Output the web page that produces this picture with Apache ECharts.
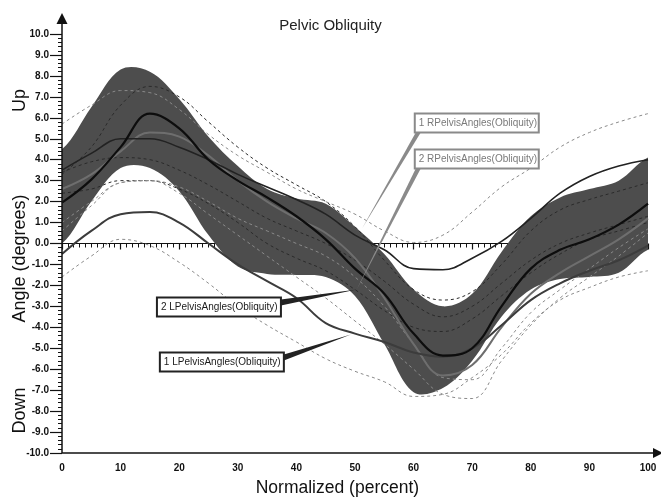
<!DOCTYPE html>
<html>
<head>
<meta charset="utf-8">
<script src="https://cdn.jsdelivr.net/npm/echarts@6/dist/echarts.min.js"></script>
<style>
  html, body { margin: 0; padding: 0; background: #fff; }
  #chart { width: 661px; height: 498px; }
</style>
</head>
<body>
<div id="chart"></div>
<script>
// Gait cycle (percent) sampling points
const pct = [0, 5, 10, 15, 20, 25, 30, 35, 40, 45, 50, 55, 60, 65, 70, 75, 80, 85, 90, 95, 100];

// Normative range (degrees)
const normUpper = [4.5, 6.5, 8.3, 8.2, 6.9, 5.1, 3.7, 2.6, 2.15, 1.9, 0.8, -0.5, -2.2, -3.0, -2.4, -0.4, 1.3, 2.2, 2.6, 3.0, 4.1];
const normLower = [0.0, 2.0, 3.6, 3.6, 2.5, 0.4, -1.1, -1.45, -1.5, -1.6, -2.5, -4.8, -7.1, -6.9, -5.6, -3.5, -2.2, -1.7, -1.6, -1.4, -0.3];

// Trial curves, solid
const leftMean   = [1.95, 3.05, 4.6, 6.2, 5.5, 4.0, 3.0, 2.2, 1.3, 0.2, -1.2, -2.4, -4.3, -5.35, -5.0, -3.0, -1.2, -0.3, 0.2, 0.9, 1.9];
const rightA     = [3.5, 4.3, 5.0, 5.0, 4.6, 4.0, 3.3, 2.7, 2.1, 1.4, 0.4, -0.3, -1.2, -1.25, -0.7, 0.1, 1.2, 2.4, 3.2, 3.7, 4.0];
const leftA      = [-0.5, 0.6, 1.4, 1.5, 1.0, 0.0, -1.0, -1.8, -2.6, -3.8, -4.3, -4.7, -5.2, -5.4, -5.0, -3.9, -2.7, -1.9, -1.3, -0.8, -0.1];
const rightB     = [2.6, 3.3, 4.4, 5.3, 5.1, 4.2, 3.0, 2.0, 1.2, 0.5, -0.7, -2.6, -4.8, -6.3, -5.8, -4.0, -2.4, -1.4, -0.6, 0.2, 1.2];

// Trial curves, dashed
const dashA = [5.7, 6.6, 7.3, 7.2, 6.4, 5.2, 4.2, 3.4, 2.6, 2.0, 1.4, 0.6, 0.05, 0.4, 1.5, 2.7, 3.6, 4.6, 5.3, 5.8, 6.2];
const dashB = [3.3, 4.6, 6.6, 7.5, 7.0, 5.8, 4.6, 3.6, 2.8, 2.0, 0.8, -0.8, -2.2, -2.7, -2.3, -1.0, 0.6, 1.6, 2.1, 2.5, 2.9];
const dashC = [3.4, 3.9, 4.1, 4.0, 3.5, 2.8, 2.0, 1.2, 0.6, 0.0, -0.8, -1.8, -2.9, -3.5, -3.0, -1.9, -0.8, 0.0, 0.5, 0.9, 1.3];
const dashD = [2.4, 2.6, 3.0, 3.0, 2.6, 1.9, 1.0, 0.0, -0.7, -1.3, -2.2, -3.2, -4.0, -4.2, -3.6, -2.5, -1.4, -0.5, 0.2, 0.6, 1.0];
const dashE = [1.0, 2.0, 2.9, 3.0, 2.7, 2.0, 1.2, 0.6, 0.0, -0.6, -1.6, -3.0, -4.8, -6.4, -6.5, -5.0, -3.3, -2.2, -1.2, -0.2, 0.7];
const dashF = [0.6, 1.8, 2.9, 3.0, 2.4, 1.4, 0.4, -0.6, -1.6, -2.6, -3.7, -4.8, -6.0, -7.2, -7.4, -5.6, -3.9, -2.6, -1.6, -0.6, 0.5];
const dashG = [-1.6, -0.6, 0.2, -0.1, -0.9, -1.9, -3.0, -3.9, -4.7, -5.5, -6.1, -6.6, -7.3, -7.2, -6.4, -5.3, -3.8, -2.7, -2.1, -1.6, -1.3];

// Axis ranges
const xRange = [0, 100];
const yRange = [-10, 10];

const FONT = '"Liberation Sans", Arial, sans-serif';
const pairs = vals => pct.map((p, i) => [p, vals[i]]);

const chart = echarts.init(document.getElementById('chart'), null, { renderer: 'canvas' });

function solid(name, vals, color, width) {
  return { name, type: 'line', data: pairs(vals), smooth: 0.4, symbol: 'none', z: 4,
           lineStyle: { color, width }, silent: true };
}
function dashed(name, vals, color) {
  return { name, type: 'line', data: pairs(vals), smooth: 0.4, symbol: 'none', z: 3,
           lineStyle: { color, width: 1, type: [3, 3] }, silent: true };
}

// Shaded normative band: upper edge forward, lower edge back.
// Each edge is padded flat past the plot edges so the smoothing of the
// closed outline happens outside the clip rectangle.
function renderBand(params, api) {
  const pad = 20;
  const edge = vals => {
    const pts = pct.map((p, i) => api.coord([p, vals[i]]));
    const first = pts[0], last = pts[pts.length - 1];
    return [[first[0] - pad, first[1]]].concat(pts, [[last[0] + pad, last[1]]]);
  };
  const cs = params.coordSys;
  return {
    type: 'polygon',
    shape: { points: edge(normUpper).concat(edge(normLower).reverse()), smooth: 0.35 },
    style: { fill: '#4d4d4d' },
    clipPath: { type: 'rect', shape: { x: cs.x, y: cs.y, width: cs.width, height: cs.height } }
  };
}

chart.setOption({
  animation: false,
  title: {
    text: 'Pelvic Obliquity', left: 'center', top: 13,
    textStyle: { fontSize: 15, fontWeight: 'normal', color: '#222', fontFamily: FONT }
  },
  grid: { left: 62, right: 13, top: 34, bottom: 45, containLabel: false },
  xAxis: {
    type: 'value', min: xRange[0], max: xRange[1], interval: 10,
    axisLine: { show: false },
    axisTick: { show: true, length: 6, lineStyle: { color: '#111', width: 1.2 } },
    minorTick: { show: true, splitNumber: 10, length: 4, lineStyle: { color: '#111', width: 1 } },
    splitLine: { show: false },
    axisLabel: { margin: 10, fontSize: 10, fontWeight: 'bold', color: '#111', fontFamily: FONT }
  },
  yAxis: {
    type: 'value', min: yRange[0], max: yRange[1], interval: 1,
    axisLine: { show: false },
    axisTick: { show: true, length: 12, lineStyle: { color: '#111', width: 1.2 } },
    minorTick: { show: true, splitNumber: 5, length: 4, lineStyle: { color: '#111', width: 1 } },
    splitLine: { show: false },
    axisLabel: { margin: 13, fontSize: 10, fontWeight: 'bold', color: '#111', fontFamily: FONT,
                 formatter: v => v.toFixed(1) }
  },
  series: [
    { name: 'zero', type: 'line', data: [[xRange[0], 0], [xRange[1], 0]], symbol: 'none', z: 1,
      lineStyle: { color: '#111', width: 1.2 }, silent: true },
    { name: 'norm', type: 'custom', data: [[0, 0]], renderItem: renderBand, z: 2, silent: true },
    dashed('dashA', dashA, '#8a8a8a'),
    dashed('dashB', dashB, '#2a2a2a'),
    dashed('dashC', dashC, '#2a2a2a'),
    dashed('dashD', dashD, '#2a2a2a'),
    dashed('dashE', dashE, '#8a8a8a'),
    dashed('dashF', dashF, '#8a8a8a'),
    dashed('dashG', dashG, '#8a8a8a'),
    solid('rightB', rightB, '#6e6e6e', 2),
    solid('leftA', leftA, '#3c3c3c', 2),
    solid('rightA', rightA, '#222', 1.6),
    solid('leftMean', leftMean, '#0d0d0d', 2.2)
  ]
});

// Callout labels: box corner and arrow tip in data units
const callouts = [
  { text: '1 RPelvisAngles(Obliquity)', box: [60.2, 6.2],   tip: [51.2, 0.72],  side: 'bottom', color: '#8a8a8a', ink: '#7a7a7a' },
  { text: '2 RPelvisAngles(Obliquity)', box: [60.2, 4.49],  tip: [50.3, -2.2],  side: 'bottom', color: '#8a8a8a', ink: '#7a7a7a' },
  { text: '2 LPelvisAngles(Obliquity)', box: [16.2, -2.58], tip: [50.3, -2.2],  side: 'right',  color: '#222',    ink: '#1a1a1a' },
  { text: '1 LPelvisAngles(Obliquity)', box: [16.7, -5.2],  tip: [49.3, -4.34], side: 'right',  color: '#222',    ink: '#1a1a1a' }
];

const px = (x, y) => chart.convertToPixel({ gridIndex: 0 }, [x, y]);
const graphics = [];

// Axis lines with arrow heads
const origin = px(xRange[0], yRange[0]);
const yEnd = px(xRange[0], yRange[1]);
const xEnd = px(xRange[1], yRange[0]);
graphics.push(
  { type: 'line', shape: { x1: origin[0], y1: origin[1], x2: origin[0], y2: yEnd[1] - 10 }, style: { stroke: '#111', lineWidth: 1.5 }, z: 10 },
  { type: 'polygon', shape: { points: [[origin[0], yEnd[1] - 21], [origin[0] - 5.5, yEnd[1] - 10], [origin[0] + 5.5, yEnd[1] - 10]] }, style: { fill: '#111' }, z: 10 },
  { type: 'line', shape: { x1: origin[0], y1: origin[1], x2: xEnd[0] + 5, y2: origin[1] }, style: { stroke: '#111', lineWidth: 1.5 }, z: 10 },
  { type: 'polygon', shape: { points: [[xEnd[0] + 15, origin[1]], [xEnd[0] + 5, origin[1] - 5], [xEnd[0] + 5, origin[1] + 5]] }, style: { fill: '#111' }, z: 10 }
);

// Axis titles
const axisTitle = { fill: '#111', font: '18px ' + FONT, textAlign: 'center', textVerticalAlign: 'middle' };
const yUp = px(0, 6.83), yMid = px(0, -0.72), yDown = px(0, -7.97);
graphics.push(
  { type: 'text', x: 20, y: yUp[1], rotation: Math.PI / 2, style: Object.assign({ text: 'Up' }, axisTitle), z: 10 },
  { type: 'text', x: 20, y: yMid[1], rotation: Math.PI / 2, style: Object.assign({ text: 'Angle (degrees)' }, axisTitle), z: 10 },
  { type: 'text', x: 20, y: yDown[1], rotation: Math.PI / 2, style: Object.assign({ text: 'Down' }, axisTitle), z: 10 },
  { type: 'text', x: px(47, 0)[0], y: origin[1] + 35, style: Object.assign({ text: 'Normalized (percent)' }, axisTitle, { font: '17.5px ' + FONT }), z: 10 }
);

// Callout boxes and pointers
const BOX_W = 124, BOX_H = 19;
callouts.forEach(c => {
  const b = px(c.box[0], c.box[1]);
  const t = px(c.tip[0], c.tip[1]);
  const base = c.side === 'bottom'
    ? [[b[0] + 1, b[1] + BOX_H], [b[0] + 6, b[1] + BOX_H]]
    : [[b[0] + BOX_W, b[1] + 2], [b[0] + BOX_W, b[1] + 8]];
  graphics.push(
    { type: 'polygon', shape: { points: [base[0], base[1], t] }, style: { fill: c.color }, z: 20 },
    { type: 'rect', shape: { x: b[0], y: b[1], width: BOX_W, height: BOX_H },
      style: { fill: '#fff', stroke: c.color, lineWidth: 2 }, z: 21 },
    { type: 'text', x: b[0] + 4, y: b[1] + BOX_H / 2 + 0.5,
      style: { text: c.text, fill: c.ink, font: '10px ' + FONT, textVerticalAlign: 'middle' }, z: 22 }
  );
});

chart.setOption({ graphic: graphics });
</script>
</body>
</html>
